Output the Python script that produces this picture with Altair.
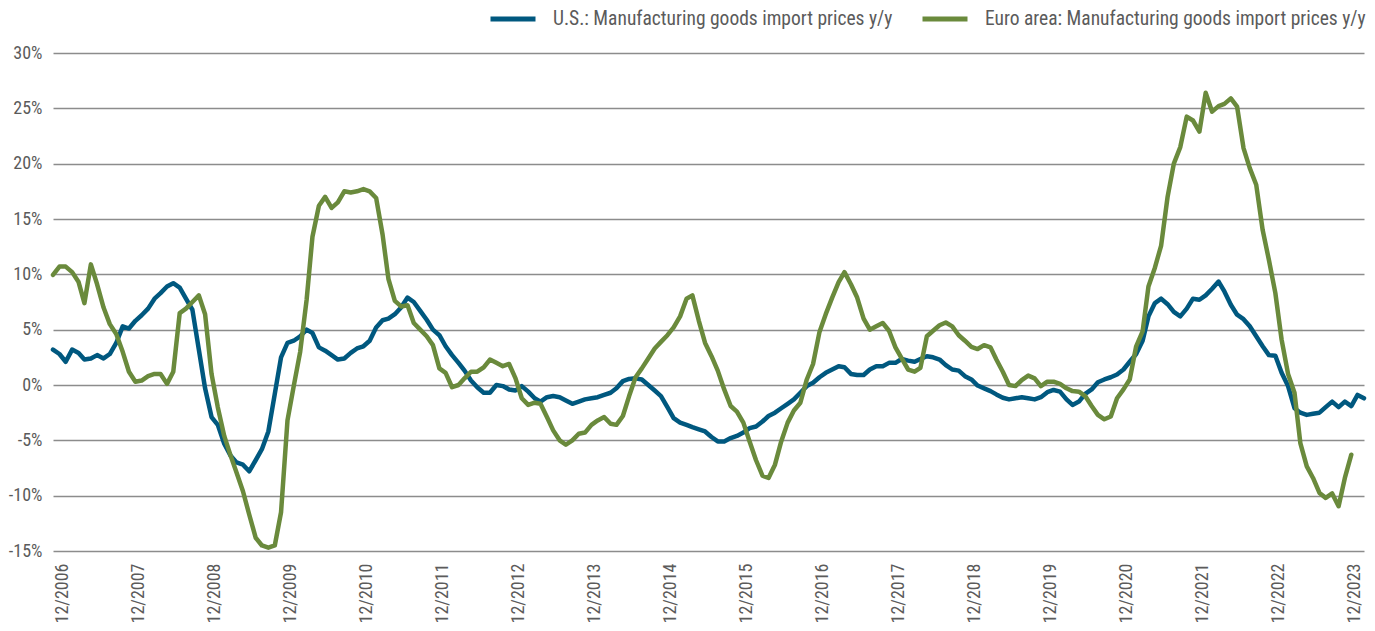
import altair as alt
import pandas as pd

US_LABEL = "U.S.: Manufacturing goods import prices y/y"
EU_LABEL = "Euro area: Manufacturing goods import prices y/y"

# monthly observations, first one in October 2006
start_month = "2006-10-01"

us_values = [
    3.2, 2.8, 2.1, 3.2, 2.9, 2.3, 2.4, 2.7, 2.4, 2.8,
    3.8, 5.3, 5.1, 5.8, 6.3, 6.9, 7.8, 8.3, 8.9, 9.2,
    8.8, 7.8, 6.8, 3.2, -0.3, -2.9, -3.6, -5.3, -6.4, -7.0,
    -7.2, -7.8, -6.8, -5.8, -4.2, -0.8, 2.5, 3.8, 4.0, 4.4,
    5.0, 4.7, 3.4, 3.1, 2.7, 2.3, 2.4, 2.9, 3.3, 3.5,
    4.0, 5.2, 5.85, 6.0, 6.4, 7.0, 7.9, 7.5, 6.7, 5.9,
    5.0, 4.5, 3.5, 2.7, 2.0, 1.3, 0.4, -0.2, -0.7, -0.7,
    0.0, -0.1, -0.4, -0.5, -0.1, -0.6, -1.2, -1.5, -1.1, -1.0,
    -1.1, -1.4, -1.7, -1.5, -1.3, -1.2, -1.1, -0.9, -0.7, -0.3,
    0.35, 0.55, 0.6, 0.5, 0.0, -0.5, -1.0, -2.0, -3.0, -3.4,
    -3.6, -3.8, -4.0, -4.2, -4.7, -5.1, -5.1, -4.8, -4.6, -4.3,
    -3.9, -3.75, -3.3, -2.8, -2.5, -2.1, -1.7, -1.3, -0.7, -0.1,
    0.2, 0.7, 1.1, 1.4, 1.7, 1.6, 1.0, 0.9, 0.9, 1.4,
    1.7, 1.7, 2.0, 2.0, 2.35, 2.2, 2.1, 2.35, 2.6, 2.5,
    2.3, 1.8, 1.4, 1.3, 0.8, 0.5, -0.05, -0.3, -0.55, -0.85,
    -1.15, -1.3, -1.2, -1.1, -1.2, -1.3, -1.1, -0.65, -0.45, -0.6,
    -1.3, -1.8, -1.5, -0.8, -0.4, 0.25, 0.5, 0.7, 0.95, 1.4,
    2.1, 2.8, 4.0, 6.2, 7.4, 7.8, 7.3, 6.6, 6.2, 6.9,
    7.8, 7.7, 8.1, 8.7, 9.35, 8.45, 7.25, 6.35, 5.95, 5.3,
    4.4, 3.5, 2.7, 2.65, 1.1, -0.1, -2.1, -2.5, -2.7, -2.6,
    -2.5, -2.0, -1.5, -2.0, -1.5, -1.9, -0.9, -1.2,
]

eu_values = [
    9.95, 10.7, 10.7, 10.2, 9.3, 7.4, 10.9, 9.1, 7.0, 5.5,
    4.6, 3.0, 1.2, 0.3, 0.4, 0.8, 1.0, 1.0, 0.1, 1.2,
    6.5, 6.9, 7.5, 8.1, 6.4, 1.0, -2.0, -4.6, -6.4, -7.9,
    -9.6, -11.7, -13.8, -14.5, -14.7, -14.5, -11.5, -3.2, -0.1, 3.0,
    7.7, 13.4, 16.2, 17.0, 16.0, 16.5, 17.5, 17.4, 17.5, 17.7,
    17.5, 16.9, 13.6, 9.6, 7.6, 7.1, 7.2, 5.6, 5.0, 4.4,
    3.6, 1.5, 1.1, -0.2, 0.0, 0.6, 1.2, 1.2, 1.6, 2.3,
    2.0, 1.7, 1.9, 0.6, -1.2, -1.8, -1.6, -1.7, -2.9, -4.1,
    -5.0, -5.4, -5.0, -4.4, -4.3, -3.6, -3.2, -2.9, -3.5, -3.6,
    -2.8, -1.0, 0.7, 1.5, 2.4, 3.3, 3.9, 4.5, 5.2, 6.2,
    7.8, 8.1, 5.8, 3.8, 2.6, 1.3, -0.4, -1.9, -2.4, -3.4,
    -5.1, -6.8, -8.2, -8.4, -7.2, -5.1, -3.4, -2.3, -1.6, 0.5,
    1.9, 4.8, 6.4, 7.9, 9.3, 10.2, 9.1, 7.9, 6.0, 5.0,
    5.3, 5.6, 4.9, 3.4, 2.4, 1.4, 1.2, 1.55, 4.4, 4.9,
    5.4, 5.65, 5.3, 4.5, 4.0, 3.45, 3.25, 3.6, 3.4, 2.3,
    1.2, 0.0, -0.1, 0.45, 0.85, 0.6, -0.1, 0.3, 0.3, 0.1,
    -0.3, -0.55, -0.6, -1.0, -1.9, -2.7, -3.1, -2.85, -1.2, -0.4,
    0.5, 3.5, 4.85, 8.9, 10.6, 12.6, 17.0, 20.0, 21.5, 24.25,
    23.9, 22.9, 26.4, 24.7, 25.2, 25.4, 25.9, 25.15, 21.4, 19.6,
    18.1, 14.0, 11.3, 8.3, 4.1, 1.0, -0.7, -5.25, -7.35, -8.4,
    -9.75, -10.2, -9.8, -10.95, -8.4, -6.3,
]

tick_years = list(range(2006, 2024))
y_ticks = [-15, -10, -5, 0, 5, 10, 15, 20, 25, 30]
series_names = [US_LABEL, EU_LABEL]
series_colors = ["#00587F", "#6A8A3C"]

months = pd.date_range(start_month, periods=len(us_values), freq="MS") + pd.Timedelta(days=14)

rows = []
for d, v in zip(months, us_values):
    rows.append({"date": d, "value": v, "series": US_LABEL})
for d, v in zip(months, eu_values):
    rows.append({"date": d, "value": v, "series": EU_LABEL})
df = pd.DataFrame(rows)

FONT = "Liberation Sans Narrow, Roboto Condensed, Roboto"
TEXT_COLOR = "#5b5b5b"

x_domain = [
    alt.DateTime(year=months[0].year, month=months[0].month, date=months[0].day),
    alt.DateTime(year=months[-1].year, month=months[-1].month, date=months[-1].day),
]

chart = (
    alt.Chart(df)
    .mark_line(strokeWidth=4.5, strokeJoin="round", strokeCap="round")
    .encode(
        x=alt.X(
            "date:T",
            scale=alt.Scale(domain=x_domain, nice=False),
            axis=alt.Axis(
                values=[alt.DateTime(year=y, month=12, date=1) for y in tick_years],
                format="%m/%Y",
                labelAngle=270,
                labelAlign="right",
                labelBaseline="middle",
                grid=False,
                ticks=False,
                domain=False,
                labelFontSize=18,
                labelPadding=12,
                labelColor=TEXT_COLOR,
                labelFont=FONT,
                labelOverlap=False,
                title=None,
            ),
        ),
        y=alt.Y(
            "value:Q",
            scale=alt.Scale(domain=[-15, 30], nice=False, zero=False),
            axis=alt.Axis(
                values=y_ticks,
                labelExpr="datum.value + '%'",
                grid=True,
                gridColor="#8c8c8c",
                gridWidth=1.3,
                ticks=False,
                domain=False,
                labelFontSize=18,
                labelPadding=11,
                labelColor=TEXT_COLOR,
                labelFont=FONT,
                title=None,
            ),
        ),
        color=alt.Color(
            "series:N",
            sort=series_names,
            scale=alt.Scale(domain=series_names, range=series_colors),
            legend=alt.Legend(
                title=None,
                orient="none",
                legendX=435,
                legendY=-59,
                direction="horizontal",
                symbolType="stroke",
                symbolStrokeWidth=5,
                symbolSize=2025,
                labelFontSize=19.5,
                labelFont=FONT,
                labelColor=TEXT_COLOR,
                labelOffset=15,
                labelLimit=600,
                columnPadding=19,
            ),
        ),
    )
    .properties(
        width=1311,
        height=498,
        autosize="none",
        padding={"left": 45, "top": 45, "right": 3, "bottom": 76},
    )
    .configure_view(stroke=None)
)

chart.save("out.html", embed_options={"renderer": "svg", "actions": False})
